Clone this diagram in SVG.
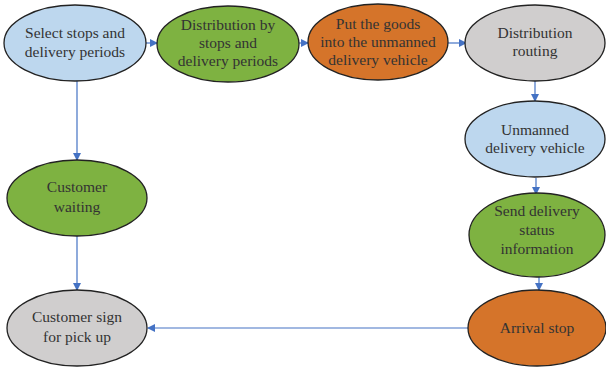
<svg xmlns="http://www.w3.org/2000/svg" width="606" height="368" viewBox="0 0 606 368">
<defs>
<marker id="ah" markerWidth="8" markerHeight="8" refX="7" refY="4" orient="auto" markerUnits="userSpaceOnUse">
<path d="M0,0 L8,4 L0,8 Z" fill="#4472C4"/>
</marker>
<style>
.n{stroke:#222;stroke-width:1.3}
.blue{fill:#BDD7EE}.green{fill:#7EB241}.orange{fill:#D5742A}.gray{fill:#D0CECE}
text{font-family:"Liberation Serif","Times New Roman",serif;font-size:15.5px;fill:#333;text-anchor:middle}
.c{stroke:#4472C4;stroke-width:1.2;fill:none;marker-end:url(#ah)}
</style>
</defs>
<rect width="606" height="368" fill="#fff"/>
<g id="connectors">
<line class="c" x1="145" y1="43" x2="157" y2="43"/>
<line class="c" x1="299" y1="43" x2="308" y2="43"/>
<line class="c" x1="448" y1="43" x2="466" y2="43"/>
<line class="c" x1="535" y1="81" x2="535" y2="101"/>
<line class="c" x1="536" y1="178" x2="536" y2="194"/>
<line class="c" x1="539" y1="269" x2="539" y2="290"/>
<line class="c" x1="468" y1="328" x2="148" y2="328"/>
<line class="c" x1="77" y1="81" x2="77" y2="160"/>
<line class="c" x1="77" y1="236" x2="77" y2="290"/>
</g>
<g id="n1"><ellipse class="n blue" cx="75" cy="43" rx="71" ry="38"/><text x="75" y="38">Select stops and</text><text x="75" y="57">delivery periods</text></g>
<g id="n2"><ellipse class="n green" cx="228" cy="44" rx="71" ry="38"/><text x="228" y="30">Distribution by</text><text x="228" y="48">stops and</text><text x="228" y="66">delivery periods</text></g>
<g id="n3"><ellipse class="n orange" cx="378" cy="42" rx="70" ry="38"/><text x="378" y="29">Put the goods</text><text x="378" y="47">into the unmanned</text><text x="378" y="65">delivery vehicle</text></g>
<g id="n4"><ellipse class="n gray" cx="535" cy="43" rx="70" ry="38"/><text x="535" y="38">Distribution</text><text x="535" y="56">routing</text></g>
<g id="n5"><ellipse class="n blue" cx="535" cy="139" rx="70" ry="38"/><text x="535" y="135">Unmanned</text><text x="535" y="153">delivery vehicle</text></g>
<g id="n6"><ellipse class="n green" cx="537" cy="235" rx="68" ry="42"/><text x="537" y="216">Send delivery</text><text x="537" y="235">status</text><text x="537" y="254">information</text></g>
<g id="n7"><ellipse class="n orange" cx="537" cy="328" rx="69" ry="38"/><text x="537" y="333">Arrival stop</text></g>
<g id="n8"><ellipse class="n gray" cx="77" cy="328" rx="70" ry="38"/><text x="77" y="322">Customer sign</text><text x="77" y="342">for pick up</text></g>
<g id="n9"><ellipse class="n green" cx="77" cy="198" rx="70" ry="38"/><text x="77" y="192">Customer</text><text x="77" y="212">waiting</text></g>
</svg>
